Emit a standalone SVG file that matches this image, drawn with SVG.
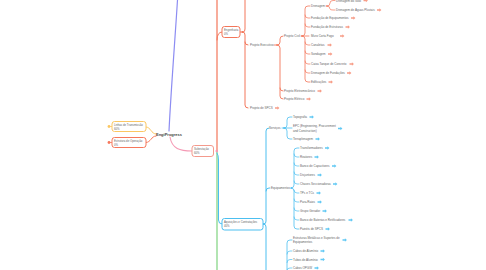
<svg xmlns="http://www.w3.org/2000/svg" width="486" height="270" viewBox="0 0 486 270">
<style>
text{font-family:"Liberation Sans","DejaVu Sans",sans-serif;font-size:3px;fill:#666;dominant-baseline:central}
.root{font-size:4px;fill:#444;font-weight:bold}
.bt{font-size:2.8px}
.c{fill:none;stroke-linecap:round}
.r{stroke:#f3765a}
.b{stroke:#4cbff0}
.box{fill:#fff;stroke-width:1}
.ar{fill:#f79d88}
.ab{fill:#62c9f4}
</style>
<defs>
<path id="arw" d="M0,-0.7 L2.4,-0.7 L2.4,-1.7 L4.4,0 L2.4,1.7 L2.4,0.7 L0,0.7 Z"/>
</defs>
<rect width="486" height="270" fill="#fff"/>
<g id="connectors">
<path class="c" stroke="#8d8df2" stroke-width="1.2" d="M169 131 C171 90 175 40 177.5 0"/>
<path class="c" stroke="#fbc764" stroke-width="1" d="M156 134 C151 134 151 127 146 127"/>
<path class="c" stroke="#f6785c" stroke-width="1" d="M156 136 C151 136 151 142.5 146 142.5"/>
<path class="c" stroke="#fbc764" stroke-width="0.8" d="M109 126.5 L112 126.5"/>
<path class="c" stroke="#f6785c" stroke-width="0.8" d="M109 142.5 L112 142.5"/>
<path class="c" stroke="#f59ab5" stroke-width="1.1" d="M170 137 C172 149 180 151 192 151"/>
<path class="c r" stroke-width="1.2" d="M217 151 L217 0"/>
<path class="c r" stroke-width="1" d="M217 40 Q217 32 222 32"/>
<path class="c" stroke="#7fd37f" stroke-width="1.2" d="M217 151 L217 270"/>
<path class="c b" stroke-width="1" d="M217 153 Q218.5 155 218.5 160 L218.5 220 Q218.5 224 222 224"/>
<path class="c r" stroke-width="1" d="M240 32 L243 32 Q245 32 245 29 L245 0"/>
<path class="c r" stroke-width="1" d="M243 32 Q245 32 245 35 L245 42 Q245 45 248 45"/>
<path class="c r" stroke-width="1" d="M245 42 L245 105 Q245 108 248 108"/>
<path class="c r" stroke-width="0.9" d="M274 45 L277 45 Q280 45 280 42 L280 39 Q280 36 283 36"/>
<path class="c r" stroke-width="0.9" d="M277 45 Q280 45 280 48 L280 88 Q280 91 283 91"/>
<path class="c r" stroke-width="0.9" d="M280 88 L280 96 Q280 99 283 99"/>
<path class="c r" stroke-width="0.8" d="M301 36 L309 36"/>
<path class="c r" stroke-width="0.8" d="M302 36 Q305 36 305 33 L305 9 Q305 6 308 6 L310 6"/>
<path class="c r" stroke-width="0.7" d="M305 15 Q305 18 308 18 L310 18"/>
<path class="c r" stroke-width="0.7" d="M305 24 Q305 27 308 27 L310 27"/>
<path class="c r" stroke-width="0.8" d="M302 36 Q305 36 305 39 L305 79 Q305 82 308 82 L310 82"/>
<path class="c r" stroke-width="0.7" d="M305 42 Q305 45 308 45 L310 45"/>
<path class="c r" stroke-width="0.7" d="M305 51 Q305 54 308 54 L310 54"/>
<path class="c r" stroke-width="0.7" d="M305 61 Q305 64 308 64 L310 64"/>
<path class="c r" stroke-width="0.7" d="M305 70 Q305 73 308 73 L310 73"/>
<path class="c r" stroke-width="0.7" d="M326 6 L327 6 Q330 6 330 3 Q330 0.5 333 0.5 L335 0.5"/>
<path class="c r" stroke-width="0.7" d="M327 6 Q330 6 330 9 Q330 10 333 10 L335 10"/>
<path class="c b" stroke-width="1" d="M263 224 L264 224 Q266 224 266 221 L266 131 Q266 128 269 128"/>
<path class="c b" stroke-width="1" d="M266 191 Q266 188 269 188 L270 188"/>
<path class="c b" stroke-width="1" d="M264 224 Q266 224 266 227 L266 270"/>
<path class="c b" stroke-width="0.8" d="M282 128 L284 128 Q287 128 287 125 L287 120 Q287 117 290 117 L292 117"/>
<path class="c b" stroke-width="0.8" d="M284 128 L292 128"/>
<path class="c b" stroke-width="0.8" d="M284 128 Q287 128 287 131 L287 136 Q287 139 290 139 L292 139"/>
<path class="c b" stroke-width="0.8" d="M291 188 Q294 188 294 185 L294 151 Q294 148 297 148 L299 148"/>
<path class="c b" stroke-width="0.8" d="M291 188 Q294 188 294 191 L294 226 Q294 229 297 229 L299 229"/>
<path class="c b" stroke-width="0.7" d="M294 154 Q294 157 297 157 L299 157"/>
<path class="c b" stroke-width="0.7" d="M294 163 Q294 166 297 166 L299 166"/>
<path class="c b" stroke-width="0.7" d="M294 172 Q294 175 297 175 L299 175"/>
<path class="c b" stroke-width="0.7" d="M294 181 Q294 184 297 184 L299 184"/>
<path class="c b" stroke-width="0.7" d="M294 190 Q294 193 297 193 L299 193"/>
<path class="c b" stroke-width="0.7" d="M294 199 Q294 202 297 202 L299 202"/>
<path class="c b" stroke-width="0.7" d="M294 208 Q294 211 297 211 L299 211"/>
<path class="c b" stroke-width="0.7" d="M294 217 Q294 220 297 220 L299 220"/>
<path class="c b" stroke-width="0.8" d="M287 270 L287 243 Q287 240 290 240 L292 240"/>
<path class="c b" stroke-width="0.7" d="M287 254 Q287 251 290 251 L292 251"/>
<path class="c b" stroke-width="0.7" d="M287 262.5 Q287 259.5 290 259.5 L292 259.5"/>
<path class="c b" stroke-width="0.7" d="M287 270 Q287 268 290 268 L292 268"/>
</g>
<g id="dots">
<circle cx="109" cy="126.5" r="1.4" fill="#fbc764"/>
<circle cx="109" cy="142.5" r="1.4" fill="#f6785c"/>
<circle cx="216.8" cy="151" r="1.3" fill="#f59ab5"/>
<circle cx="242.5" cy="32" r="1" fill="#f3765a"/>
<circle cx="277" cy="45" r="0.8" fill="#f3765a"/>
<circle cx="302" cy="36" r="0.8" fill="#f3765a"/>
<circle cx="327" cy="6" r="0.7" fill="#f3765a"/>
<circle cx="264" cy="224" r="1" fill="#4cbff0"/>
<circle cx="284" cy="128" r="0.8" fill="#4cbff0"/>
<circle cx="291.5" cy="188" r="0.8" fill="#4cbff0"/>
</g>
<g id="root"><text class="root" x="156" y="134.5">EngiProgress</text></g>
<g id="linhas"><rect class="box" x="112" y="121.5" width="34" height="10" rx="2.5" stroke="#fbc764"/><text class="bt" x="114" y="124.8">Linhas de Transmissão</text><text class="bt" x="114" y="128.5">60%</text></g>
<g id="estrutura"><rect class="box" x="112" y="137.5" width="34" height="10" rx="2.5" stroke="#f6785c"/><text class="bt" x="114" y="140.8">Estrutura de Operação</text><text class="bt" x="114" y="144.5">0%</text></g>
<g id="subestacao"><rect class="box" x="192" y="145.5" width="21.5" height="11" rx="2.5" stroke="#f49a8d"/><text class="bt" x="194" y="149">Subestação</text><text class="bt" x="194" y="153">60%</text></g>
<g id="engenharia"><rect class="box" x="222" y="26.5" width="18" height="11" rx="2.5" stroke="#f3765a"/><text class="bt" x="224" y="30">Engenharia</text><text class="bt" x="224" y="34">0%</text></g>
<g id="aquisicoes"><rect class="box" x="222" y="218.5" width="41" height="11.5" rx="2.5" stroke="#4cbff0"/><text class="bt" x="224" y="222.3">Aquisições e Contratações</text><text class="bt" x="224" y="226.3">40%</text></g>
<g id="proj-exec"><text x="250" y="45">Projeto Executivo</text></g>
<g id="proj-civil"><text x="284" y="36">Projeto Civil</text></g>
<g id="drenagem"><text x="311" y="6">Drenagem</text></g>
<g id="dren-solo"><text x="336" y="0.5">Drenagem do Solo</text><use href="#arw" class="ar" x="363.5" y="0.5"/></g>
<g id="dren-aguas"><text x="336" y="10">Drenagem de Águas Pluviais</text><use href="#arw" class="ar" x="377" y="10"/></g>
<g id="fund-equip"><text x="311" y="18">Fundação de Equipamentos</text><use href="#arw" class="ar" x="351" y="18"/></g>
<g id="fund-estr"><text x="311" y="27">Fundação de Estruturas</text><use href="#arw" class="ar" x="345.5" y="27"/></g>
<g id="muro"><text x="311" y="36">Muro Corta Fogo</text><use href="#arw" class="ar" x="340" y="36"/></g>
<g id="canaletas"><text x="311" y="45">Canaletas</text><use href="#arw" class="ar" x="327.5" y="45"/></g>
<g id="sondagem"><text x="311" y="54">Sondagem</text><use href="#arw" class="ar" x="328" y="54"/></g>
<g id="caixa"><text x="311" y="64">Caixa Tanque de Concreto</text><use href="#arw" class="ar" x="349.5" y="64"/></g>
<g id="dren-fund"><text x="311" y="73">Drenagem de Fundações</text><use href="#arw" class="ar" x="347" y="73"/></g>
<g id="edificacoes"><text x="311" y="82">Edificações</text><use href="#arw" class="ar" x="328.5" y="82"/></g>
<g id="proj-eletromec"><text x="284" y="91">Projeto Eletromecânico</text><use href="#arw" class="ar" x="317.5" y="91"/></g>
<g id="proj-eletrico"><text x="284" y="99">Projeto Elétrico</text><use href="#arw" class="ar" x="306.5" y="99"/></g>
<g id="proj-spcs"><text x="250" y="108">Projeto de SPCS</text><use href="#arw" class="ar" x="275" y="108"/></g>
<g id="servicos"><text x="269" y="128">Serviços</text></g>
<g id="topografia"><text x="293" y="117">Topografia</text><use href="#arw" class="ab" x="309.5" y="117"/></g>
<g id="epc"><text x="293" y="126">EPC (Engineering, Procurement</text><text x="293" y="130.5">and Construction)</text><use href="#arw" class="ab" x="338" y="128.5"/></g>
<g id="terraplenagem"><text x="293" y="139">Terraplenagem</text><use href="#arw" class="ab" x="315.5" y="139"/></g>
<g id="equipamentos"><text x="271" y="188">Equipamentos</text></g>
<g id="transf"><text x="300" y="148">Transformadores</text><use href="#arw" class="ab" x="325" y="148"/></g>
<g id="reatores"><text x="300" y="157">Reatores</text><use href="#arw" class="ab" x="314.5" y="157"/></g>
<g id="capac"><text x="300" y="166">Banco de Capacitores</text><use href="#arw" class="ab" x="332" y="166"/></g>
<g id="disj"><text x="300" y="175">Disjuntores</text><use href="#arw" class="ab" x="317.5" y="175"/></g>
<g id="chaves"><text x="300" y="184">Chaves Seccionadoras</text><use href="#arw" class="ab" x="333" y="184"/></g>
<g id="tps"><text x="300" y="193">TPs e TCs</text><use href="#arw" class="ab" x="316.5" y="193"/></g>
<g id="pararaios"><text x="300" y="202">Para-Raios</text><use href="#arw" class="ab" x="317.5" y="202"/></g>
<g id="gerador"><text x="300" y="211">Grupo Gerador</text><use href="#arw" class="ab" x="322.5" y="211"/></g>
<g id="baterias"><text x="300" y="220">Banco de Baterias e Retificadores</text><use href="#arw" class="ab" x="348.5" y="220"/></g>
<g id="paineis"><text x="300" y="229">Painéis de SPCS</text><use href="#arw" class="ab" x="325.5" y="229"/></g>
<g id="estruturas-met"><text x="293" y="238">Estruturas Metálicas e Suportes de</text><text x="293" y="242">Equipamentos</text><use href="#arw" class="ab" x="342.5" y="240"/></g>
<g id="cabos-al"><text x="293" y="251">Cabos de Alumínio</text><use href="#arw" class="ab" x="320.5" y="251"/></g>
<g id="tubos-al"><text x="293" y="259.5">Tubos de Alumínio</text><use href="#arw" class="ab" x="320.5" y="259.5"/></g>
<g id="opgw"><text x="293" y="268">Cabos OPGW</text><use href="#arw" class="ab" x="314.5" y="268"/></g>
</svg>
